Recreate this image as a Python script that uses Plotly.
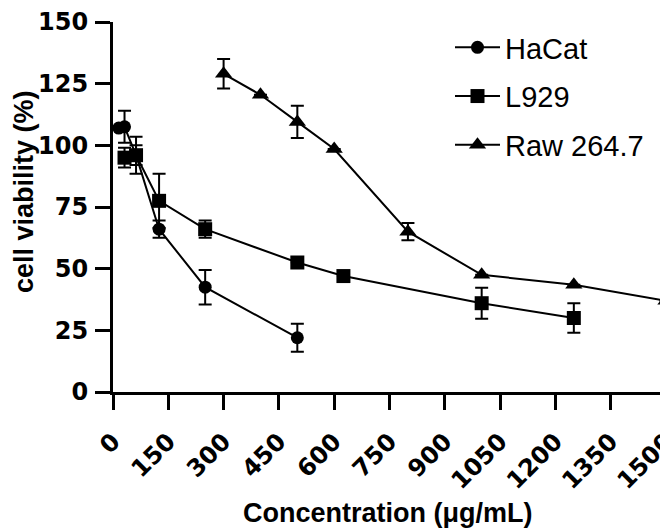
import plotly.graph_objects as go

# ---- data ----
hacat_x = [15.625, 31.25, 62.5, 125, 250, 500]
hacat_y = [107, 107.5, 96, 66, 42.5, 22]
hacat_err = [0, 6.5, 4, 3.5, 7, 5.7]

l929_x = [31.25, 62.5, 125, 250, 500, 625, 1000, 1250]
l929_y = [95, 96, 77.5, 66, 52.5, 47, 36, 30]
l929_err = [4, 7.5, 11, 3.5, 0, 0, 6.3, 6]

raw_x = [300, 400, 500, 600, 800, 1000, 1250, 1500]
raw_y = [129, 120.5, 109.5, 98.5, 65, 47.5, 43.5, 37]
raw_err = [6, 0, 6.5, 0, 3.5, 0, 0, 0]

series_names = ["HaCat", "L929", "Raw 264.7"]
x_ticks = [0, 150, 300, 450, 600, 750, 900, 1050, 1200, 1350, 1500]
y_ticks = [0, 25, 50, 75, 100, 125, 150]

# page is rendered with an 8px body margin; compensate
OFF = 8
PW, PH = 668, 529                 # page size
PL, PR, PT, PB = 113, 666, 22, 392  # plot area in page pixels
W, H = PW - OFF, PH - OFF
ML, MT = PL - OFF, PT - OFF
MR = W - (PR - OFF)
MB = H - (PB - OFF)
PWID, PHGT = PR - PL, PB - PT


def px(xp):
    return (xp - PL) / PWID


def py(yp):
    return (PB - yp) / PHGT


fig = go.Figure()

specs = [
    (hacat_x, hacat_y, hacat_err, "circle", 13),
    (l929_x, l929_y, l929_err, "square", 14),
    (raw_x, raw_y, raw_err, "triangle-up", 15),
]
for name, (xs, ys, es, sym, sz) in zip(series_names, specs):
    fig.add_trace(go.Scatter(
        x=xs, y=ys, name=name, mode="lines+markers",
        legendgroup=name,
        line=dict(color="black", width=2),
        marker=dict(symbol=sym, size=sz, color="black", line=dict(width=0)),
        error_y=dict(type="data", array=es, visible=True, color="black",
                     thickness=2, width=6.5),
        cliponaxis=False,
    ))

tick_font = dict(family="DejaVu Sans", size=24, color="black", weight="bold")

fig.update_layout(
    width=W, height=H,
    margin=dict(l=ML, r=MR, t=MT, b=MB, autoexpand=False),
    paper_bgcolor="white", plot_bgcolor="white",
    showlegend=True,
    legend=dict(
        x=px(450), y=py(22),
        xanchor="left", yanchor="top",
        font=dict(family="Liberation Sans", size=29, color="black"),
        bgcolor="rgba(0,0,0,0)", borderwidth=0,
        tracegroupgap=8, itemwidth=45,
    ),
    xaxis=dict(
        range=[0, 1500], tickvals=x_ticks, ticktext=[str(v) for v in x_ticks],
        tickangle=-45, tickfont=tick_font, ticklabeloverflow="allow",
        showline=True, linecolor="black", linewidth=3,
        ticks="outside", ticklen=15, tickwidth=3, tickcolor="black",
        showgrid=False, zeroline=False, ticklabelstandoff=8,
    ),
    yaxis=dict(
        range=[0, 150], tickvals=y_ticks, ticktext=[str(v) for v in y_ticks],
        tickfont=tick_font,
        showline=True, linecolor="black", linewidth=3,
        ticks="outside", ticklen=15, tickwidth=3, tickcolor="black",
        showgrid=False, zeroline=False, ticklabelstandoff=2,
    ),
    annotations=[
        dict(text="cell viability (%)", textangle=-90, showarrow=False,
             xref="paper", yref="paper", x=px(24), y=py(192),
             xanchor="center", yanchor="middle",
             font=dict(family="Liberation Sans", size=27, color="black", weight="bold")),
        dict(text="Concentration (μg/mL)", showarrow=False,
             xref="paper", yref="paper", x=px(388), y=py(513),
             xanchor="center", yanchor="middle",
             font=dict(family="Liberation Sans", size=27, color="black", weight="bold")),
    ],
)

fig.write_html("out.html")
